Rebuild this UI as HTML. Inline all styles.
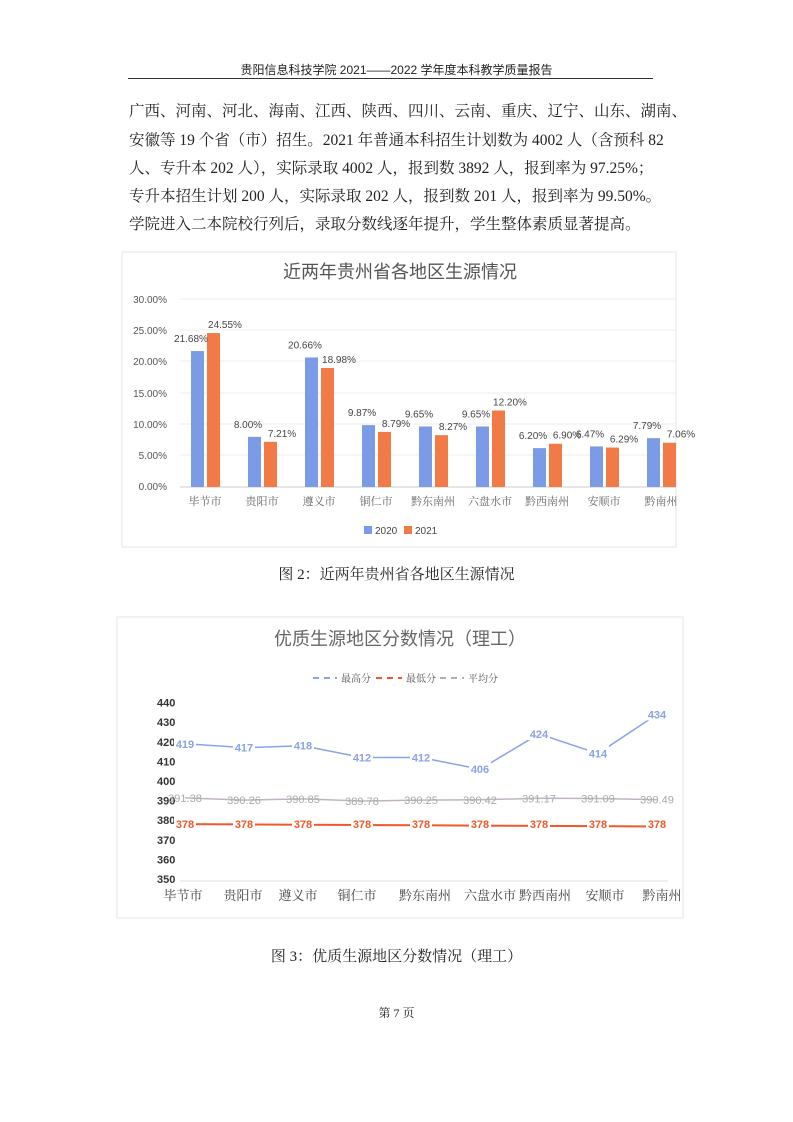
<!DOCTYPE html>
<html><head><meta charset="utf-8"><style>
body{margin:0;background:#fff;}
.pg{position:relative;width:793px;height:1122px;overflow:hidden;font-family:"Liberation Serif","Noto Serif CJK SC",serif;color:#222;}
.t{position:absolute;left:129px;font-size:15.5px;white-space:nowrap;}
</style></head><body><div class="pg">
<div style="position:absolute;left:0;width:793px;top:61px;text-align:center;font-size:12px;font-family:'Liberation Sans','Noto Sans CJK SC',sans-serif">贵阳信息科技学院 2021——2022 学年度本科教学质量报告</div>
<div style="position:absolute;left:128px;top:78px;width:525px;border-top:1.5px solid #333"></div>
<div class="t" style="top:99px">广西、河南、河北、海南、江西、陕西、四川、云南、重庆、辽宁、山东、湖南、</div>
<div class="t" style="top:128px">安徽等 19 个省（市）招生。2021 年普通本科招生计划数为 4002 人（含预科 82</div>
<div class="t" style="top:156px">人、专升本 202 人），实际录取 4002 人，报到数 3892 人，报到率为 97.25%；</div>
<div class="t" style="top:184px">专升本招生计划 200 人，实际录取 202 人，报到数 201 人，报到率为 99.50%。</div>
<div class="t" style="top:212px">学院进入二本院校行列后，录取分数线逐年提升，学生整体素质显著提高。</div>
<div style="position:absolute;left:0;width:793px;top:563px;text-align:center;font-size:15px">图 2：近两年贵州省各地区生源情况</div>
<div style="position:absolute;left:0;width:793px;top:945px;text-align:center;font-size:15px">图 3：优质生源地区分数情况（理工）</div>
<div style="position:absolute;left:0;width:793px;top:1004px;text-align:center;font-size:12px">第 7 页</div>
<svg width="793" height="1122" style="position:absolute;left:0;top:0" font-family="Liberation Sans,Noto Sans CJK SC,sans-serif">
<rect x="122" y="252" width="554" height="295" fill="none" stroke="#e6e6e6"/>
<text x="400" y="278" font-size="18" fill="#555" text-anchor="middle">近两年贵州省各地区生源情况</text>
<g font-size="10" fill="#555" text-anchor="end">
<text x="167" y="303">30.00%</text><text x="167" y="334">25.00%</text><text x="167" y="365">20.00%</text><text x="167" y="397">15.00%</text><text x="167" y="428">10.00%</text><text x="167" y="459">5.00%</text><text x="167" y="490">0.00%</text></g>
<g stroke="#eee"><line x1="180" x2="676" y1="299" y2="299"/><line x1="180" x2="676" y1="330" y2="330"/><line x1="180" x2="676" y1="361" y2="361"/><line x1="180" x2="676" y1="393" y2="393"/><line x1="180" x2="676" y1="424" y2="424"/><line x1="180" x2="676" y1="455" y2="455"/><line x1="180" x2="676" y1="487" y2="487" stroke="#ccc"/></g>
<g id="bars"></g>
<g font-size="11" fill="#666" text-anchor="middle" font-family="Liberation Serif,Noto Serif CJK SC,serif" id="cat1"></g>
<rect x="364" y="526" width="8" height="8" fill="#7b9be6"/><text x="375" y="534" font-size="10" fill="#444">2020</text>
<rect x="404" y="526" width="8" height="8" fill="#f27a46"/><text x="415" y="534" font-size="10" fill="#444">2021</text>

<rect x="117" y="617" width="566" height="301" fill="none" stroke="#e6e6e6"/>
<text x="400" y="645" font-size="18" fill="#666" text-anchor="middle">优质生源地区分数情况（理工）</text>
<g font-size="10" fill="#555" font-family="Liberation Serif,Noto Serif CJK SC,serif">
<line x1="313" x2="337" y1="678" y2="678" stroke="#8aa2e8" stroke-width="2" stroke-dasharray="6,5"/><text x="341" y="682">最高分</text>
<line x1="376" x2="402" y1="678" y2="678" stroke="#f0592a" stroke-width="2" stroke-dasharray="6,5"/><text x="406" y="682">最低分</text>
<line x1="440" x2="464" y1="678" y2="678" stroke="#b7a9b8" stroke-width="2" stroke-dasharray="6,5"/><text x="468" y="682">平均分</text></g>
<g font-size="11" fill="#333" font-weight="bold" id="yl2"></g>
<line x1="180" x2="668" y1="881" y2="881" stroke="#ddd"/>
<g id="lines"></g>
<g font-size="13" fill="#444" text-anchor="middle" font-family="Liberation Serif,Noto Serif CJK SC,serif" id="cat2"></g>
</svg>
<script>
var cats=["毕节市","贵阳市","遵义市","铜仁市","黔东南州","六盘水市","黔西南州","安顺市","黔南州"];
var a=[21.68,8,20.66,9.87,9.65,9.65,6.2,6.47,7.79],b=[24.55,7.21,18.98,8.79,8.27,12.2,6.9,6.29,7.06];
var ns="http://www.w3.org/2000/svg";
function el(p,t,at,tx){var e=document.createElementNS(ns,t);for(var k in at)e.setAttribute(k,at[k]);if(tx!=null)e.textContent=tx;p.appendChild(e);return e;}
var g=document.getElementById("bars"),c1=document.getElementById("cat1");
for(var i=0;i<9;i++){var cx=205+i*57;var ya=487-a[i]*6.27,yb=487-b[i]*6.27;
el(g,"rect",{x:cx-14,y:ya,width:13,height:487-ya,fill:"#7b9be6"});
el(g,"rect",{x:cx+2,y:yb,width:13,height:487-yb,fill:"#f27a46"});
el(g,"text",{x:cx-14,y:ya-9,"font-size":10,fill:"#444","text-anchor":"middle"},a[i].toFixed(2)+"%");
el(g,"text",{x:cx+20,y:yb-5,"font-size":10,fill:"#444","text-anchor":"middle"},b[i].toFixed(2)+"%");
el(c1,"text",{x:cx,y:505},cats[i]);}
function Y(v){return 879-(v-350)*1.96;}
var yl=document.getElementById("yl2");
for(var v=350;v<=440;v+=10)el(yl,"text",{x:157,y:Y(v)+4},v);
var hi=[419,417,418,412,412,406,424,414,434],av=[391.38,390.26,390.85,389.78,390.25,390.42,391.17,391.09,390.49];
var L=document.getElementById("lines"),c2=document.getElementById("cat2");
function line(d,col,w){var p="";for(var i=0;i<9;i++)p+=(i?"L":"M")+(185+i*59)+","+Y(d[i]);el(L,"path",{d:p,fill:"none",stroke:col,"stroke-width":w});}
line(hi,"#8aa2e8",1.5);line(av,"#c0b4c2",1.5);line([378,378,378,378,378,378,378,378,378].map(function(v,i){return v-0.15*i}),"#f0592a",2);
for(var i=0;i<9;i++){var x=185+i*59;
el(L,"rect",{x:x-11,y:Y(hi[i])-8,width:22,height:14,fill:"#fff"});
el(L,"text",{x:x,y:Y(hi[i])+4,"font-size":11,fill:"#8aa2e8","text-anchor":"middle","font-weight":"bold"},hi[i]);
el(L,"text",{x:x,y:Y(av[i])+4,"font-size":11,fill:"#aaa","text-anchor":"middle"},av[i].toFixed(2));
el(L,"rect",{x:x-11,y:Y(378)-7,width:22,height:13,fill:"#fff"});
el(L,"text",{x:x,y:Y(378)+4,"font-size":11,fill:"#f0592a","text-anchor":"middle","font-weight":"bold"},"378");
el(c2,"text",{x:[183,243,298,357,425,490,545,605,662][i],y:900},cats[i]);}
</script>
</div></body></html>
